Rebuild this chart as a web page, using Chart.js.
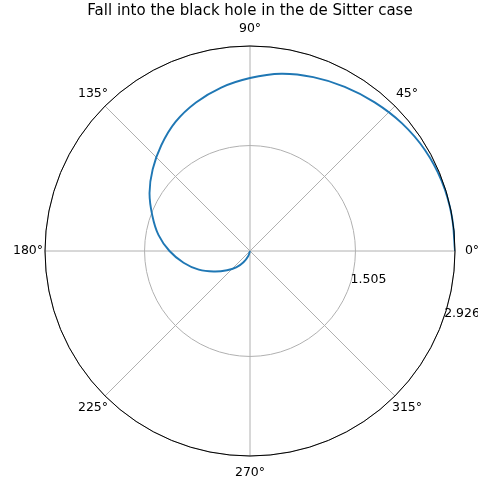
<!DOCTYPE html>
<html>
<head>
<meta charset="utf-8">
<script src="https://cdn.jsdelivr.net/npm/chart.js@4.4.1/dist/chart.umd.min.js"></script>
<style>
  html, body { margin: 0; padding: 0; background: #ffffff; }
  #c { display: block; }
</style>
</head>
<body>
<canvas id="c" width="478" height="489"></canvas>
<script>
// Infalling trajectory, polar form: angle (degrees) and radial coordinate.
const chartTitle = 'Fall into the black hole in the de Sitter case';
const thetaDeg = [0, 10, 20, 30, 40, 50, 60, 70, 80, 90, 100, 110, 120, 130, 140, 150, 160, 170, 180, 190, 200, 210, 220, 230, 240, 250, 258];
const radius   = [2.926, 2.923, 2.912, 2.883, 2.833, 2.769, 2.705, 2.640, 2.569, 2.469, 2.369, 2.255, 2.127, 1.970, 1.813, 1.656, 1.484, 1.327, 1.149, 0.963, 0.778, 0.585, 0.428, 0.307, 0.186, 0.079, 0];

// Polar axes: angular gridlines and radial rings with their labels.
const angleTicks = [0, 45, 90, 135, 180, 225, 270, 315];
const angleTickLabels = ['0°', '45°', '90°', '135°', '180°', '225°', '270°', '315°'];
const radialTicks = [1.505, 2.926];
const radialTickLabels = ['1.505', '2.926'];
const rMax = 2.926;

const FONT = '"DejaVu Sans", "Liberation Sans", sans-serif';
const rad = d => d * Math.PI / 180;

const points = thetaDeg.map((t, i) => ({
  x: radius[i] * Math.cos(rad(t)),
  y: radius[i] * Math.sin(rad(t))
}));

function polarPixel(chart, r, tDeg) {
  const xs = chart.scales.x, ys = chart.scales.y;
  return {
    x: xs.getPixelForValue(r * Math.cos(rad(tDeg))),
    y: ys.getPixelForValue(r * Math.sin(rad(tDeg)))
  };
}

const polarFrame = {
  id: 'polarFrame',
  beforeDatasetsDraw(chart) {
    const ctx = chart.ctx;
    const xs = chart.scales.x, ys = chart.scales.y;
    const cx = xs.getPixelForValue(0), cy = ys.getPixelForValue(0);
    ctx.save();
    ctx.strokeStyle = '#b0b0b0';
    ctx.lineWidth = 1;
    // spokes
    angleTicks.forEach(t => {
      const p = polarPixel(chart, rMax, t);
      ctx.beginPath();
      ctx.moveTo(cx, cy);
      ctx.lineTo(p.x, p.y);
      ctx.stroke();
    });
    // rings
    radialTicks.forEach(r => {
      const pr = xs.getPixelForValue(r) - cx;
      ctx.beginPath();
      ctx.arc(cx, cy, pr, 0, Math.PI * 2);
      ctx.stroke();
    });
    ctx.restore();
  },
  afterDatasetsDraw(chart) {
    const ctx = chart.ctx;
    const xs = chart.scales.x, ys = chart.scales.y;
    const cx = xs.getPixelForValue(0), cy = ys.getPixelForValue(0);
    const outer = xs.getPixelForValue(rMax) - cx;
    ctx.save();
    // outer frame
    ctx.strokeStyle = '#000000';
    ctx.lineWidth = 1;
    ctx.beginPath();
    ctx.arc(cx, cy, outer, 0, Math.PI * 2);
    ctx.stroke();

    ctx.fillStyle = '#000000';
    // angular labels
    ctx.font = '12.5px ' + FONT;
    ctx.textAlign = 'center';
    ctx.textBaseline = 'middle';
    const labelR = outer + 17;
    angleTicks.forEach((t, i) => {
      const x = cx + labelR * Math.cos(rad(t));
      const y = cy - labelR * Math.sin(rad(t));
      ctx.fillText(angleTickLabels[i], x, y);
    });
    // radial labels
    ctx.textAlign = 'left';
    radialTicks.forEach((r, i) => {
      const p = polarPixel(chart, r, -20);
      ctx.fillText(radialTickLabels[i], p.x + 1.5, p.y - 7);
    });
    // title
    ctx.font = '15px ' + FONT;
    ctx.textAlign = 'center';
    ctx.textBaseline = 'alphabetic';
    ctx.fillText(chartTitle, cx, 15);
    ctx.restore();
  }
};

new Chart(document.getElementById('c'), {
  type: 'scatter',
  data: {
    datasets: [{
      data: points,
      showLine: true,
      borderColor: '#1f77b4',
      borderWidth: 1.9,
      pointRadius: 0,
      tension: 0.4,
      fill: false
    }]
  },
  options: {
    responsive: false,
    animation: false,
    devicePixelRatio: 1,
    layout: { padding: { left: 45, right: 23, top: 46, bottom: 33 } },
    scales: {
      x: { type: 'linear', min: -rMax, max: rMax, display: false },
      y: { type: 'linear', min: -rMax, max: rMax, display: false }
    },
    plugins: {
      legend: { display: false },
      tooltip: { enabled: false },
      title: { display: false }
    }
  },
  plugins: [polarFrame]
});
</script>
</body>
</html>
